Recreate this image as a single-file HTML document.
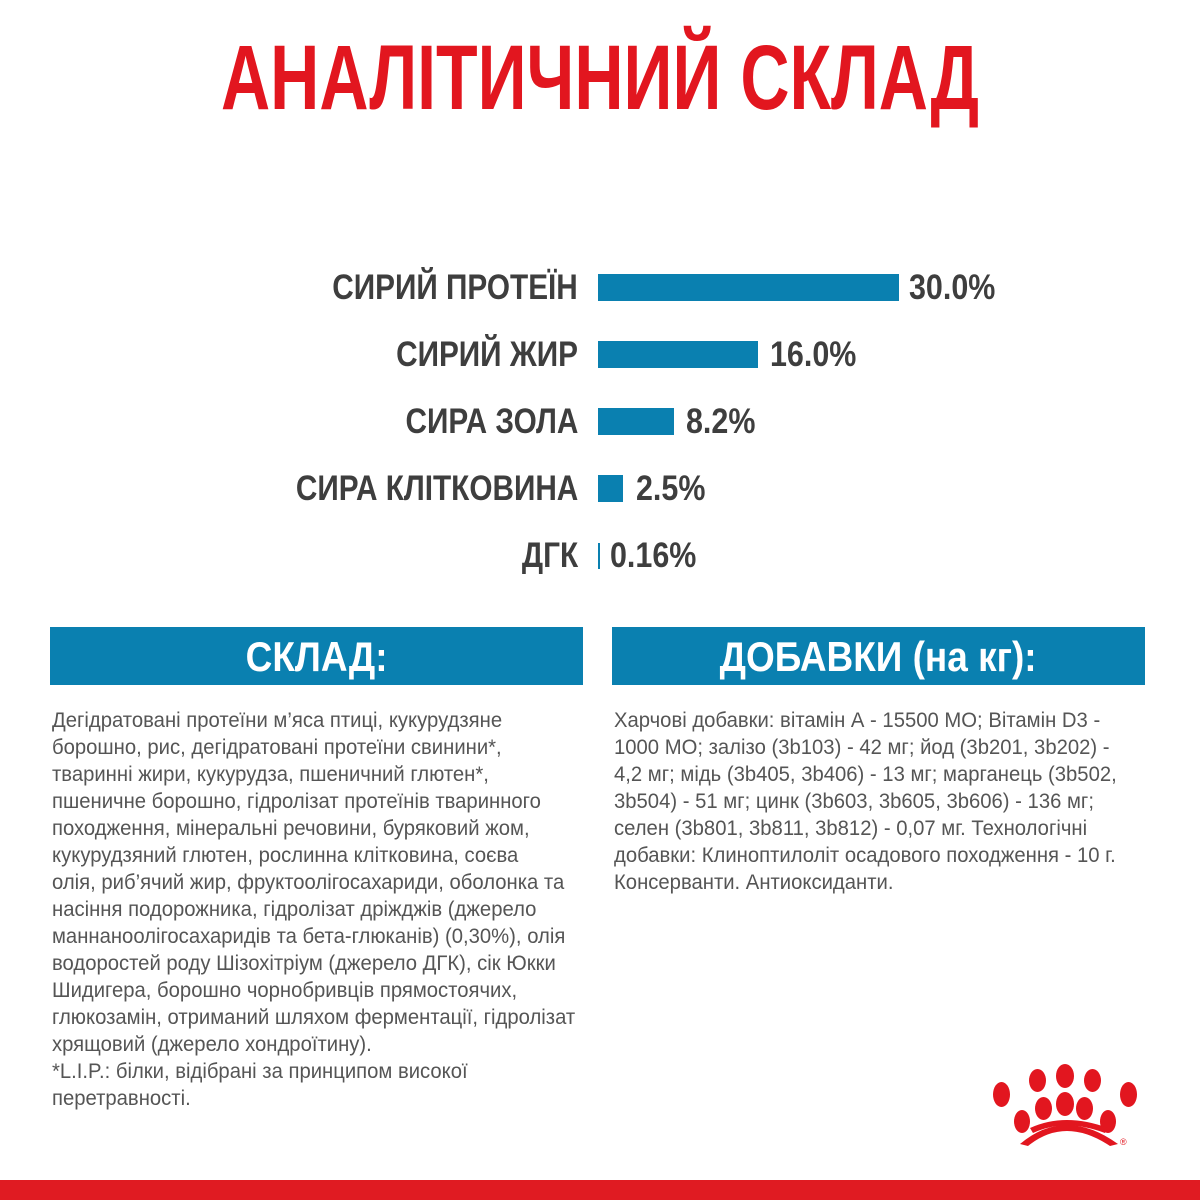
<!DOCTYPE html>
<html><head><meta charset="utf-8"><style>
body{margin:0;width:1200px;height:1200px;background:#fff;position:relative;overflow:hidden;font-family:"Liberation Sans",sans-serif}
.t{position:absolute;white-space:nowrap}
.title{left:0;width:1200px;text-align:center;top:28px;font-size:92px;font-weight:bold;color:#e2161f;line-height:100px;transform:scaleX(0.74);transform-origin:600px 0}
.lab{right:622px;font-size:35px;font-weight:bold;color:#3e3e3e;line-height:40px;transform:scaleX(0.85);transform-origin:right center}
.val{font-size:35px;font-weight:bold;color:#3e3e3e;line-height:40px;transform:scaleX(0.87);transform-origin:left center}
.bar{position:absolute;left:598px;background:#0a80b0}
.hdr{position:absolute;top:627px;height:58px;background:#0a80b0;color:#fff;font-weight:bold;font-size:42px;text-align:center;line-height:60px}
.hdr span{display:inline-block;transform:scaleX(0.88)}
.body{position:absolute;top:707px;font-size:21px;line-height:27px;color:#555;white-space:pre;transform:scaleX(0.965);transform-origin:left top}
.dot{position:absolute;background:#e2161f;border-radius:50%}
</style></head><body>
<div class="t title">АНАЛІТИЧНИЙ СКЛАД</div>

<div class="t lab" style="top:268px">СИРИЙ ПРОТЕЇН</div>
<div class="bar" style="top:274px;width:301px;height:27px"></div>
<div class="t val" style="left:909px;top:268px">30.0%</div>

<div class="t lab" style="top:335px">СИРИЙ ЖИР</div>
<div class="bar" style="top:341px;width:160px;height:27px"></div>
<div class="t val" style="left:770px;top:335px">16.0%</div>

<div class="t lab" style="top:402px">СИРА ЗОЛА</div>
<div class="bar" style="top:408px;width:76px;height:27px"></div>
<div class="t val" style="left:686px;top:402px">8.2%</div>

<div class="t lab" style="top:469px">СИРА КЛІТКОВИНА</div>
<div class="bar" style="top:475px;width:25px;height:27px"></div>
<div class="t val" style="left:636px;top:469px">2.5%</div>

<div class="t lab" style="top:536px">ДГК</div>
<div class="bar" style="top:543px;width:2px;height:26px"></div>
<div class="t val" style="left:610px;top:536px">0.16%</div>

<div class="hdr" style="left:50px;width:533px"><span>СКЛАД:</span></div>
<div class="hdr" style="left:612px;width:533px"><span>ДОБАВКИ (на кг):</span></div>

<div class="body" style="left:52px">Дегідратовані протеїни м’яса птиці, кукурудзяне
борошно, рис, дегідратовані протеїни свинини*,
тваринні жири, кукурудза, пшеничний глютен*,
пшеничне борошно, гідролізат протеїнів тваринного
походження, мінеральні речовини, буряковий жом,
кукурудзяний глютен, рослинна клітковина, соєва
олія, риб’ячий жир, фруктоолігосахариди, оболонка та
насіння подорожника, гідролізат дріжджів (джерело
маннаноолігосахаридів та бета-глюканів) (0,30%), олія
водоростей роду Шізохітріум (джерело ДГК), сік Юкки
Шидигера, борошно чорнобривців прямостоячих,
глюкозамін, отриманий шляхом ферментації, гідролізат
хрящовий (джерело хондроїтину).
*L.I.P.: білки, відібрані за принципом високої
перетравності.</div>
<div class="body" style="left:614px">Харчові добавки: вітамін А - 15500 МО; Вітамін D3 -
1000 МО; залізо (3b103) - 42 мг; йод (3b201, 3b202) -
4,2 мг; мідь (3b405, 3b406) - 13 мг; марганець (3b502,
3b504) - 51 мг; цинк (3b603, 3b605, 3b606) - 136 мг;
селен (3b801, 3b811, 3b812) - 0,07 мг. Технологічні
добавки: Клиноптилоліт осадового походження - 10 г.
Консерванти. Антиоксиданти.</div>

<div class="dot" style="left:1056px;top:1064px;width:18px;height:24px"></div>
<div class="dot" style="left:1029px;top:1069px;width:17px;height:23px"></div>
<div class="dot" style="left:1084px;top:1069px;width:17px;height:23px"></div>
<div class="dot" style="left:993px;top:1082px;width:17px;height:25px"></div>
<div class="dot" style="left:1120px;top:1082px;width:17px;height:25px"></div>
<div class="dot" style="left:1056px;top:1092px;width:18px;height:24px"></div>
<div class="dot" style="left:1035px;top:1097px;width:17px;height:23px"></div>
<div class="dot" style="left:1076px;top:1097px;width:17px;height:23px"></div>
<div class="dot" style="left:1014px;top:1110px;width:16px;height:23px"></div>
<div class="dot" style="left:1100px;top:1110px;width:16px;height:23px"></div>
<svg style="position:absolute;left:1010px;top:1110px" width="130" height="40" viewBox="0 0 130 40">
<path d="M10 34 Q55 -4 108 34 L100 36 Q55 6 18 36 Z" fill="#e2161f"/>
<path d="M20 18 Q55 2 98 18 L95 23 Q55 8 23 23 Z" fill="#e2161f"/>
<text x="110" y="35" font-size="9" fill="#e2161f" font-family="Liberation Sans">®</text>
</svg>

<div style="position:absolute;left:0;top:1180px;width:1200px;height:20px;background:#e01b22"></div>
</body></html>
